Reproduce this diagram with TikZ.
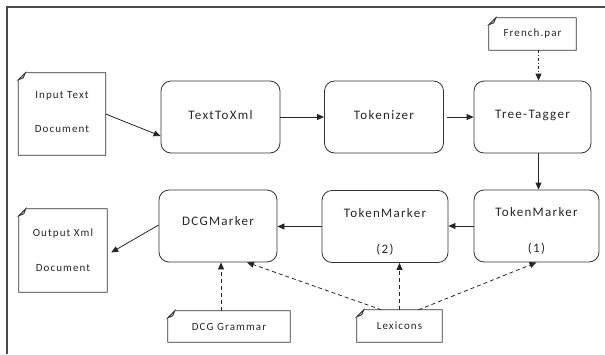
\documentclass[tikz,border=0pt]{standalone}
\usepackage{fontspec}
\setmainfont{Carlito}[LetterSpace=10]
\usetikzlibrary{arrows.meta}

% note shape with the folded corner
\newcommand\docframe[1]{%
	\draw [docline] ([yshift=-7pt]#1.north west) -- ([xshift=7pt]#1.north west) -- (#1.north east) -- (#1.south east) -- (#1.south west) -- cycle;
	\filldraw [docline, fill=gray!45] ([yshift=-7pt]#1.north west) -- ([xshift=7pt]#1.north west) -- ([xshift=5pt,yshift=-5pt]#1.north west) -- cycle;
}
\newcommand\lift[2]{\raisebox{#1}[\height][\depth]{#2}}

\begin{document}
\begin{tikzpicture}[x=1pt, y=-1pt,
	proc/.style={draw=black!80, line width=0.8pt, rounded corners=10pt, minimum width=119pt, minimum height=72pt, inner sep=0pt, align=center, text=black!85, font=\fontsize{13}{15}\selectfont},
	doc/.style={minimum width=87pt, minimum height=82pt, inner sep=0pt, align=center, text=black!85, font=\fontsize{11}{13}\selectfont},
	note/.style={doc, minimum height=32pt},
	docline/.style={draw=black!80, line width=0.8pt},
	flow/.style={-{Triangle[length=7pt,width=6pt]}, black!85, line width=0.8pt},
	feed/.style={flow, dash pattern=on 4pt off 3pt}]
	\useasboundingbox (0,0) rectangle (605,354);
	\draw [line width=2pt, black!70] (7,354) -- (7,7) -- (605,7);

	\node [doc] (input) at (62,114) {\lift{2pt}{Input Text}\\[21pt]\lift{2pt}{Document}};
	\node [proc] (textxml) at (220.5,117) {\lift{2pt}{TextToXml}};
	\node [proc] (tokenizer) at (384,117) {\lift{2pt}{Tokenizer}};
	\node [proc, minimum width=117pt] (tagger) at (532.5,117) {\lift{2pt}{Tree-Tagger}};
	\node [note] (french) at (532.5,34) {French.par};
	\node [proc, minimum width=125pt] (marker1) at (536.5,226) {\lift{-5pt}{TokenMarker}\\[21pt]\lift{-5pt}{(1)}};
	\node [proc, minimum width=126pt] (marker2) at (385,226.5) {\lift{-5pt}{TokenMarker}\\[21pt]\lift{-5pt}{(2)}};
	\node [proc, minimum width=118pt] (dcgm) at (218,226) {\lift{5pt}{DCGMarker}};
	\node [doc, minimum width=88pt, minimum height=83pt] (output) at (63,250.5) {Output Xml\\[22pt]Document};
	\node [note, minimum width=122pt, minimum height=31pt] (grammar) at (229,326.5) {DCG Grammar};
	\node [note, minimum width=85pt] (lexicons) at (399.5,326) {Lexicons};

	\docframe{input}
	\docframe{french}
	\docframe{output}
	\docframe{grammar}
	\docframe{lexicons}

	\draw [flow] (input.east) -- ([yshift=-19pt]textxml.west);
	\draw [flow] (textxml) -- (tokenizer);
	\draw [flow] ([xshift=3pt]tokenizer.east) -- (tagger.west);
	\draw [flow, dash dot] ([xshift=6pt]french.south) -- ([xshift=6pt]tagger.north);
	\draw [flow] ([xshift=6pt]tagger.south) -- ([xshift=6pt]tagger.south |- marker1.north);
	\draw [flow] (marker1) -- (marker1 -| marker2.east);
	\draw [flow] (marker2.west) -- (marker2.west -| dcgm.east);
	\draw [flow] ([yshift=1pt]dcgm.west) -- ([xshift=4pt,yshift=-2pt]output.east);
	\draw [feed] ([xshift=3pt]dcgm.south |- grammar.north) -- ([xshift=3pt]dcgm.south);
	\draw [feed] ([xshift=-18pt]lexicons.north) -- ([xshift=29pt]dcgm.south);
	\draw [feed] (lexicons.north) -- (lexicons.north |- marker2.south);
	\draw [feed] ([xshift=19pt]lexicons.north) -- (marker1.south);
\end{tikzpicture}
\end{document}
